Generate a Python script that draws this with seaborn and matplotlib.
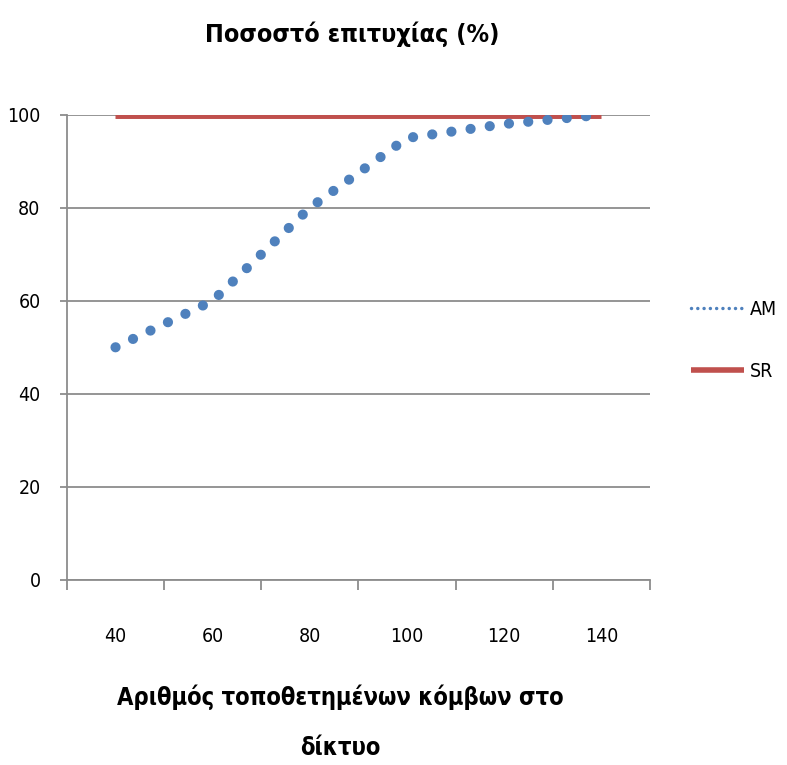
import numpy as np
import pandas as pd
import seaborn as sns
import matplotlib.pyplot as plt

# data
nodes = [40, 60, 80, 100, 120, 140]
am_rate = [50, 60, 80, 95, 98, 100]
sr_rate = [100, 100, 100, 100, 100, 100]

title = 'Ποσοστό επιτυχίας (%)'
xlabel = 'Αριθμός τοποθετημένων κόμβων στο\nδίκτυο'

sns.set_theme(style='white')
plt.rcParams['font.family'] = ['DejaVu Sans']
plt.rcParams['font.stretch'] = 'condensed'
plt.rcParams['text.color'] = 'black'
plt.rcParams['xtick.color'] = 'black'
plt.rcParams['ytick.color'] = 'black'

grey = '#8c8c8c'
blue = '#4F81BD'
red = '#C0504D'

fig = plt.figure(figsize=(7.87, 7.65), dpi=100)
ax = fig.add_axes([0.085, 0.242, 0.741, 0.608])

df_sr = pd.DataFrame({'nodes': nodes, 'rate': sr_rate})
df_am = pd.DataFrame({'nodes': nodes, 'rate': am_rate})

sns.lineplot(data=df_sr, x='nodes', y='rate', ax=ax, color=red, lw=5,
             label='SR', zorder=3)
sns.lineplot(data=df_am, x='nodes', y='rate', ax=ax, color=blue, lw=7.3,
             label='AM', zorder=4)
am_line = ax.lines[-1]
am_line.set_linestyle((0, (0.01, 1.9)))
am_line.set_dash_capstyle('round')
ax.lines[0].set_solid_capstyle('butt')

ax.set_xlim(30, 150)
ax.set_ylim(0, 100)
ax.set_xticks(nodes)
ax.set_xticks(np.arange(30, 151, 20), minor=True)
ax.set_yticks(np.arange(0, 101, 20))
ax.yaxis.grid(True, color=grey, lw=1.3)
ax.xaxis.grid(False)
ax.set_axisbelow(True)

for s in ['top', 'right']:
    ax.spines[s].set_visible(False)
for s in ['left', 'bottom']:
    ax.spines[s].set_color(grey)
    ax.spines[s].set_linewidth(1.3)

ax.tick_params(axis='x', which='major', length=0, pad=34, labelsize=14)
ax.tick_params(axis='x', which='minor', length=7, width=1.3, color=grey,
               bottom=True, direction='out')
ax.tick_params(axis='y', length=5, width=1.3, color=grey, left=True,
               direction='out', pad=14, labelsize=14)

ax.set_xlabel('')
ax.set_ylabel('')
fig.text(0.432, 0.056, xlabel, ha='center', va='center', fontsize=17,
         fontweight='bold', linespacing=2.4)
fig.text(0.447, 0.955, title, ha='center', va='center', fontsize=18,
         fontweight='bold')

handles, labels = ax.get_legend_handles_labels()
order = [labels.index('AM'), labels.index('SR')]
leg = ax.legend([handles[i] for i in order], [labels[i] for i in order],
                loc='center left', bbox_to_anchor=(0.856, 0.555),
                bbox_transform=fig.transFigure, frameon=False, fontsize=14,
                labelspacing=2.2, handlelength=2.7, handletextpad=0.3)
leg_lines = leg.get_lines()
leg_lines[0].set_linewidth(2.5)
leg_lines[0].set_linestyle((0, (0.01, 1.8)))
leg_lines[0].set_dash_capstyle('round')
leg_lines[1].set_linewidth(4)

fig.savefig('out.png', dpi=100)
